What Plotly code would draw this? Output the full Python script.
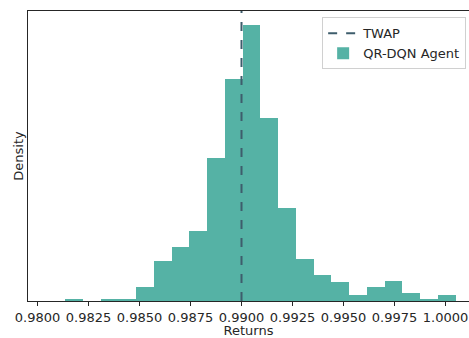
import plotly.graph_objects as go

# Histogram data (density), 22 equal-width bins
bin_start = 0.981348
bin_end = 1.0005
densities = [1.6, 0.0, 1.2, 1.2, 12.7, 37.3, 49.7, 64.8, 132.6, 205.4, 256.1,
             169.6, 85.8, 38.9, 23.8, 17.6, 5.3, 12.7, 18.8, 7.7, 1.6, 5.3]
twap = 0.99
tick_vals = [0.98, 0.9825, 0.985, 0.9875, 0.99, 0.9925, 0.995, 0.9975, 1.0]

n = len(densities)
bw = (bin_end - bin_start) / n
centers = [bin_start + bw * (i + 0.5) for i in range(n)]
ytop = max(densities) * 1.05

fig = go.Figure()
fig.add_trace(go.Bar(
    x=centers, y=densities, width=bw, name="QR-DQN Agent",
    marker=dict(color="#55b2a5", line=dict(width=0)),
))
fig.add_trace(go.Scatter(
    x=[twap, twap], y=[0, ytop], mode="lines", name="TWAP",
    line=dict(color="#3e5d6c", width=2, dash="dash"),
))

fig.update_layout(
    width=469, height=338,
    margin=dict(l=28, r=0, t=11, b=37),
    paper_bgcolor="white", plot_bgcolor="white",
    font=dict(family="DejaVu Sans", size=13, color="#262626"),
    bargap=0,
    showlegend=True,
    legend=dict(
        x=0.667, y=0.978, xanchor="left", yanchor="top",
        bordercolor="#d0d0d0", borderwidth=1, bgcolor="rgba(255,255,255,0.8)",
        font=dict(size=13), traceorder="reversed",
        tracegroupgap=0,
    ),
    xaxis=dict(
        range=[0.979534, 1.001152],
        tickvals=tick_vals, tickformat=".4f",
        ticks="outside", ticklen=4, tickcolor="#262626", tickwidth=1,
        showline=True, linecolor="#262626", linewidth=1, mirror=True,
        showgrid=False, zeroline=False, automargin=False,
        title=dict(text="Returns", standoff=9, font=dict(size=13)),
    ),
    yaxis=dict(
        range=[0, ytop],
        showticklabels=False, ticks="",
        showline=True, linecolor="#262626", linewidth=1, mirror=True,
        showgrid=False, zeroline=False,
        title=dict(text="Density", standoff=0, font=dict(size=13)),
    ),
)

fig.write_html("out.html")
